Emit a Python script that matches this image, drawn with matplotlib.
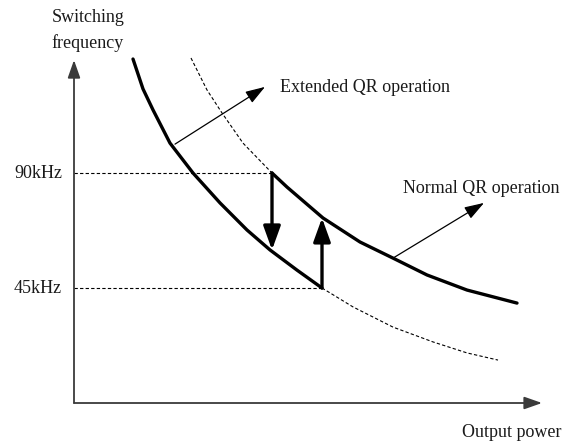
import matplotlib.pyplot as plt

# power in arbitrary units, frequency in kHz
ext_p = [0.59, 0.69, 0.79, 0.96, 1.19, 1.46, 1.73, 1.96, 2.23, 2.48]
ext_f = [134.6, 122.9, 114.7, 101.7, 90.0, 78.3, 67.7, 59.9, 52.0, 45.0]

norm_p = [1.98, 2.13, 2.49, 2.86, 3.19, 3.53, 3.93, 4.43]
norm_f = [90.0, 84.5, 72.4, 63.0, 56.7, 50.1, 44.2, 39.1]

# dashed extensions of the two curves
norm_ext_p = [1.17, 1.33, 1.48, 1.69, 1.98]
norm_ext_f = [135.0, 122.5, 113.5, 101.7, 90.0]
ext_ext_p = [2.48, 2.79, 3.19, 3.59, 3.93, 4.24]
ext_ext_f = [45.0, 37.6, 29.7, 23.9, 19.6, 16.8]

f_high = 90.0
f_low = 45.0
p_down = 1.98
p_up = 2.48

plt.rcParams['font.family'] = 'Liberation Serif'

fig = plt.figure(figsize=(5.78, 4.42), dpi=100)
ax = fig.add_axes([0, 0, 1, 1])
ax.set_xlim(-0.74, 5.04)
ax.set_ylim(-15.26, 157.7)
ax.axis('off')

fs = 13
tc = '#1a1a1a'
dash = (0, (3, 2))

# axes arrows
axc = '#3a3a3a'
ax.annotate('', xy=(0, 134.2), xytext=(0, 0),
            arrowprops=dict(arrowstyle='-|>,head_length=0.54,head_width=0.19',
                            mutation_scale=20, color=axc, lw=1.3,
                            shrinkA=0, shrinkB=0))
ax.annotate('', xy=(4.68, 0), xytext=(0, 0),
            arrowprops=dict(arrowstyle='-|>,head_length=0.54,head_width=0.19',
                            mutation_scale=20, color=axc, lw=1.3,
                            shrinkA=0, shrinkB=0))

# dashed reference lines
ax.plot([0, p_down], [f_high, f_high], color='black', lw=0.8, ls=dash)
ax.plot([0, p_up], [f_low, f_low], color='black', lw=0.8, ls=dash)
ax.plot(norm_ext_p, norm_ext_f, color='black', lw=0.8, ls=dash)
ax.plot(ext_ext_p, ext_ext_f, color='black', lw=0.8, ls=dash)

# thick curves
ax.plot(ext_p, ext_f, color='black', lw=2.4, solid_capstyle='round', solid_joinstyle='round')
ax.plot(norm_p, norm_f, color='black', lw=2.4, solid_capstyle='round', solid_joinstyle='round')

# hysteresis arrows
ax.annotate('', xy=(p_down, 59.9), xytext=(p_down, f_high),
            arrowprops=dict(arrowstyle='-|>,head_length=0.72,head_width=0.26',
                            mutation_scale=20, color='black', lw=2.4,
                            shrinkA=0, shrinkB=0))
ax.annotate('', xy=(p_up, 72.4), xytext=(p_up, f_low),
            arrowprops=dict(arrowstyle='-|>,head_length=0.72,head_width=0.26',
                            mutation_scale=20, color='black', lw=2.4,
                            shrinkA=0, shrinkB=0))

# labels with pointers
ax.annotate('', xy=(1.91, 123.7), xytext=(1.01, 101.3),
            arrowprops=dict(arrowstyle='-|>,head_length=0.6,head_width=0.2',
                            mutation_scale=20, color='black', lw=0.9,
                            shrinkA=0, shrinkB=0))
ax.text(2.06, 123.3, 'Extended QR operation', fontsize=fs, color=tc, ha='left', va='center')

ax.annotate('', xy=(4.10, 78.3), xytext=(3.19, 56.7),
            arrowprops=dict(arrowstyle='-|>,head_length=0.6,head_width=0.2',
                            mutation_scale=20, color='black', lw=0.9,
                            shrinkA=0, shrinkB=0))
ax.text(3.29, 84.1, 'Normal QR operation', fontsize=fs, color=tc, ha='left', va='center')

ax.text(0.14, 150.7, 'Switching', fontsize=fs, color=tc, ha='center', va='center')
ax.text(0.14, 140.9, 'frequency', fontsize=fs, color=tc, ha='center', va='center')
ax.text(-0.12, f_high, '90kHz', fontsize=fs, color=tc, ha='right', va='center')
ax.text(-0.12, f_low, '45kHz', fontsize=fs, color=tc, ha='right', va='center')
ax.text(3.88, -11.35, 'Output power', fontsize=fs, color=tc, ha='left', va='center')

fig.savefig('out.png', dpi=100)
